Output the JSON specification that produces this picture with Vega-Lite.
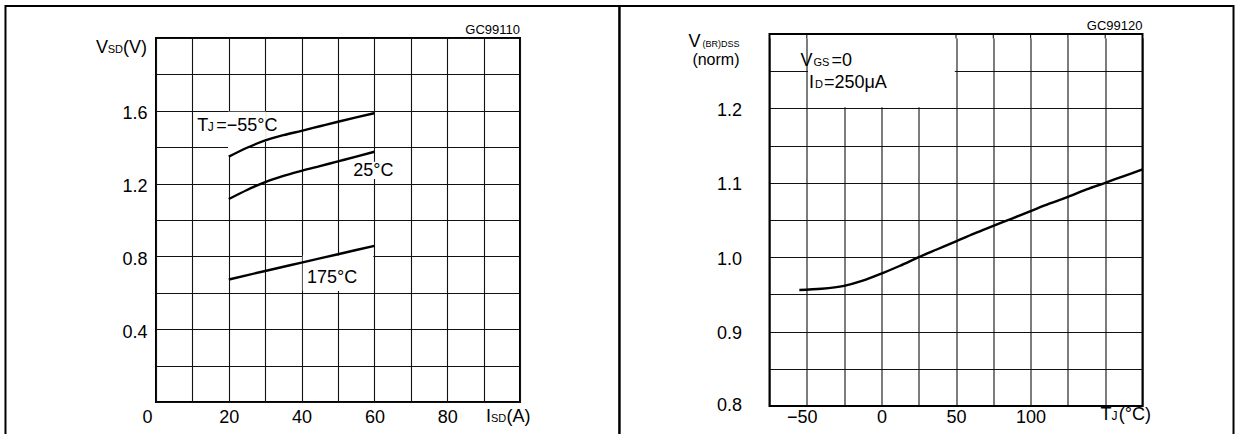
{
  "$schema": "https://vega.github.io/schema/vega-lite/v6.json",
  "background": "white",
  "padding": {"left": 3, "top": 4, "right": 0, "bottom": 0},
  "spacing": 249.5,
  "align": "none",
  "bounds": "flush",
  "datasets": {
    "vsd": [
      {"isd": 20, "vsd": 1.348, "tj": "-55"}, {"isd": 25, "vsd": 1.397, "tj": "-55"}, {"isd": 30, "vsd": 1.437, "tj": "-55"},
      {"isd": 35, "vsd": 1.466, "tj": "-55"}, {"isd": 40, "vsd": 1.490, "tj": "-55"}, {"isd": 45, "vsd": 1.515, "tj": "-55"},
      {"isd": 50, "vsd": 1.540, "tj": "-55"}, {"isd": 55, "vsd": 1.564, "tj": "-55"}, {"isd": 60, "vsd": 1.587, "tj": "-55"},
      {"isd": 20, "vsd": 1.115, "tj": "25"}, {"isd": 25, "vsd": 1.165, "tj": "25"}, {"isd": 30, "vsd": 1.208, "tj": "25"},
      {"isd": 35, "vsd": 1.242, "tj": "25"}, {"isd": 40, "vsd": 1.270, "tj": "25"}, {"isd": 45, "vsd": 1.296, "tj": "25"},
      {"isd": 50, "vsd": 1.322, "tj": "25"}, {"isd": 55, "vsd": 1.348, "tj": "25"}, {"isd": 60, "vsd": 1.375, "tj": "25"},
      {"isd": 20, "vsd": 0.673, "tj": "175"}, {"isd": 30, "vsd": 0.720, "tj": "175"}, {"isd": 40, "vsd": 0.766, "tj": "175"},
      {"isd": 50, "vsd": 0.812, "tj": "175"}, {"isd": 60, "vsd": 0.858, "tj": "175"}
    ],
    "bvdss": [
      {"tj": -55, "v": 0.956}, {"tj": -40, "v": 0.9575}, {"tj": -25, "v": 0.9615}, {"tj": -12.5, "v": 0.9685},
      {"tj": 0, "v": 0.978}, {"tj": 12.5, "v": 0.9885}, {"tj": 25, "v": 1.0}, {"tj": 37.5, "v": 1.0107},
      {"tj": 50, "v": 1.0214}, {"tj": 62.5, "v": 1.032}, {"tj": 75, "v": 1.042}, {"tj": 87.5, "v": 1.052},
      {"tj": 100, "v": 1.062}, {"tj": 112.5, "v": 1.072}, {"tj": 125, "v": 1.081}, {"tj": 137.5, "v": 1.091},
      {"tj": 150, "v": 1.100}, {"tj": 162.5, "v": 1.109}, {"tj": 175, "v": 1.118}
    ],
    "topgrid": [{"tj": -50}, {"tj": 50}, {"tj": 75}, {"tj": 100}, {"tj": 125}, {"tj": 150}]
  },
  "config": {
    "view": {"stroke": "black", "strokeWidth": 2},
    "axis": {"grid": true, "gridColor": "#111", "gridWidth": 1.1, "gridOpacity": 1, "domain": false, "ticks": false, "tickSize": 0,
             "labelFont": "Liberation Sans", "labelFontSize": 18, "labelColor": "black", "labelOverlap": false, "labelBound": false, "labelFlush": false},
    "text": {"font": "Liberation Sans", "fontSize": 18, "color": "black", "align": "left", "baseline": "alphabetic"}
  },
  "hconcat": [
    {
      "width": 364,
      "height": 364,
      "layer": [
        {"data": {"values": [{}]}, "mark": {"type": "rect", "fill": null, "stroke": "black", "strokeWidth": 2},
         "encoding": {
           "x": {"datum": -41.35, "type": "quantitative", "title": null, "scale": {"domain": [0, 100], "nice": false, "zero": false}, "axis": {"title": null, "values": [0, 10, 20, 30, 40, 50, 60, 70, 80, 90, 100], "labelExpr": "datum.value % 20 == 0 && datum.value < 100 ? datum.label : ''", "labelPadding": 6, "labelOffset": {"condition": {"test": "datum.value == 0", "value": -9}, "value": 0}}},
           "x2": {"datum": 127.3},
           "y": {"datum": 2.1758, "type": "quantitative", "title": null, "scale": {"domain": [0, 2], "nice": false, "zero": false}, "axis": {"title": null, "values": [0, 0.2, 0.4, 0.6, 0.8, 1, 1.2, 1.4, 1.6, 1.8, 2], "format": ".1f", "labelExpr": "indexof(['0.4','0.8','1.2','1.6'], datum.label) >= 0 ? datum.label : ''", "labelPadding": 9, "labelOffset": 3}},
           "y2": {"datum": -0.21}}},
        {"data": {"values": [{}]}, "mark": {"type": "rect", "fill": "white"},
         "encoding": {
           "x": {"datum": 19.8, "type": "quantitative", "title": null, "scale": {"domain": [0, 100], "nice": false, "zero": false}, "axis": {"title": null, "values": [0, 10, 20, 30, 40, 50, 60, 70, 80, 90, 100], "labelExpr": "datum.value % 20 == 0 && datum.value < 100 ? datum.label : ''", "labelPadding": 6, "labelOffset": {"condition": {"test": "datum.value == 0", "value": -9}, "value": 0}}},
           "x2": {"datum": 25},
           "y": {"datum": 1.35, "type": "quantitative", "title": null, "scale": {"domain": [0, 2], "nice": false, "zero": false}, "axis": {"title": null, "values": [0, 0.2, 0.4, 0.6, 0.8, 1, 1.2, 1.4, 1.6, 1.8, 2], "format": ".1f", "labelExpr": "indexof(['0.4','0.8','1.2','1.6'], datum.label) >= 0 ? datum.label : ''", "labelPadding": 9, "labelOffset": 3}},
           "y2": {"datum": 1.595}}},
        {"data": {"values": [{}]}, "mark": {"type": "rect", "fill": "white"},
         "encoding": {
           "x": {"datum": 25, "type": "quantitative", "title": null, "scale": {"domain": [0, 100], "nice": false, "zero": false}, "axis": {"title": null, "values": [0, 10, 20, 30, 40, 50, 60, 70, 80, 90, 100], "labelExpr": "datum.value % 20 == 0 && datum.value < 100 ? datum.label : ''", "labelPadding": 6, "labelOffset": {"condition": {"test": "datum.value == 0", "value": -9}, "value": 0}}},
           "x2": {"datum": 30.2},
           "y": {"datum": 1.43, "type": "quantitative", "title": null, "scale": {"domain": [0, 2], "nice": false, "zero": false}, "axis": {"title": null, "values": [0, 0.2, 0.4, 0.6, 0.8, 1, 1.2, 1.4, 1.6, 1.8, 2], "format": ".1f", "labelExpr": "indexof(['0.4','0.8','1.2','1.6'], datum.label) >= 0 ? datum.label : ''", "labelPadding": 9, "labelOffset": 3}},
           "y2": {"datum": 1.595}}},
        {"data": {"values": [{}]}, "mark": {"type": "rect", "fill": "white"},
         "encoding": {
           "x": {"datum": 53, "type": "quantitative", "title": null, "scale": {"domain": [0, 100], "nice": false, "zero": false}, "axis": {"title": null, "values": [0, 10, 20, 30, 40, 50, 60, 70, 80, 90, 100], "labelExpr": "datum.value % 20 == 0 && datum.value < 100 ? datum.label : ''", "labelPadding": 6, "labelOffset": {"condition": {"test": "datum.value == 0", "value": -9}, "value": 0}}},
           "x2": {"datum": 68},
           "y": {"datum": 1.225, "type": "quantitative", "title": null, "scale": {"domain": [0, 2], "nice": false, "zero": false}, "axis": {"title": null, "values": [0, 0.2, 0.4, 0.6, 0.8, 1, 1.2, 1.4, 1.6, 1.8, 2], "format": ".1f", "labelExpr": "indexof(['0.4','0.8','1.2','1.6'], datum.label) >= 0 ? datum.label : ''", "labelPadding": 9, "labelOffset": 3}},
           "y2": {"datum": 1.32}}},
        {"data": {"values": [{}]}, "mark": {"type": "rect", "fill": "white"},
         "encoding": {
           "x": {"datum": 40.3, "type": "quantitative", "title": null, "scale": {"domain": [0, 100], "nice": false, "zero": false}, "axis": {"title": null, "values": [0, 10, 20, 30, 40, 50, 60, 70, 80, 90, 100], "labelExpr": "datum.value % 20 == 0 && datum.value < 100 ? datum.label : ''", "labelPadding": 6, "labelOffset": {"condition": {"test": "datum.value == 0", "value": -9}, "value": 0}}},
           "x2": {"datum": 59.7},
           "y": {"datum": 0.61, "type": "quantitative", "title": null, "scale": {"domain": [0, 2], "nice": false, "zero": false}, "axis": {"title": null, "values": [0, 0.2, 0.4, 0.6, 0.8, 1, 1.2, 1.4, 1.6, 1.8, 2], "format": ".1f", "labelExpr": "indexof(['0.4','0.8','1.2','1.6'], datum.label) >= 0 ? datum.label : ''", "labelPadding": 9, "labelOffset": 3}},
           "y2": {"datum": 0.805}}},
        {"data": {"name": "vsd"}, "mark": {"type": "line", "color": "black", "strokeWidth": 2.4, "interpolate": "monotone"},
         "encoding": {
           "x": {"field": "isd", "type": "quantitative", "title": null, "scale": {"domain": [0, 100], "nice": false, "zero": false}, "axis": {"title": null, "values": [0, 10, 20, 30, 40, 50, 60, 70, 80, 90, 100], "labelExpr": "datum.value % 20 == 0 && datum.value < 100 ? datum.label : ''", "labelPadding": 6, "labelOffset": {"condition": {"test": "datum.value == 0", "value": -9}, "value": 0}}},
           "y": {"field": "vsd", "type": "quantitative", "title": null, "scale": {"domain": [0, 2], "nice": false, "zero": false}, "axis": {"title": null, "values": [0, 0.2, 0.4, 0.6, 0.8, 1, 1.2, 1.4, 1.6, 1.8, 2], "format": ".1f", "labelExpr": "indexof(['0.4','0.8','1.2','1.6'], datum.label) >= 0 ? datum.label : ''", "labelPadding": 9, "labelOffset": 3}},
           "detail": {"field": "tj"}
         }},
        {"data": {"values": [{}]}, "mark": {"type": "text", "text": "T"},
         "encoding": {
           "x": {"datum": 11.3, "type": "quantitative", "title": null, "scale": {"domain": [0, 100], "nice": false, "zero": false}, "axis": {"title": null, "values": [0, 10, 20, 30, 40, 50, 60, 70, 80, 90, 100], "labelExpr": "datum.value % 20 == 0 && datum.value < 100 ? datum.label : ''", "labelPadding": 6, "labelOffset": {"condition": {"test": "datum.value == 0", "value": -9}, "value": 0}}},
           "y": {"datum": 1.49, "type": "quantitative", "title": null, "scale": {"domain": [0, 2], "nice": false, "zero": false}, "axis": {"title": null, "values": [0, 0.2, 0.4, 0.6, 0.8, 1, 1.2, 1.4, 1.6, 1.8, 2], "format": ".1f", "labelExpr": "indexof(['0.4','0.8','1.2','1.6'], datum.label) >= 0 ? datum.label : ''", "labelPadding": 9, "labelOffset": 3}}}},
        {"data": {"values": [{}]}, "mark": {"type": "text", "text": "J", "fontSize": 12, "dx": 10.5},
         "encoding": {
           "x": {"datum": 11.3, "type": "quantitative", "title": null, "scale": {"domain": [0, 100], "nice": false, "zero": false}, "axis": {"title": null, "values": [0, 10, 20, 30, 40, 50, 60, 70, 80, 90, 100], "labelExpr": "datum.value % 20 == 0 && datum.value < 100 ? datum.label : ''", "labelPadding": 6, "labelOffset": {"condition": {"test": "datum.value == 0", "value": -9}, "value": 0}}},
           "y": {"datum": 1.49, "type": "quantitative", "title": null, "scale": {"domain": [0, 2], "nice": false, "zero": false}, "axis": {"title": null, "values": [0, 0.2, 0.4, 0.6, 0.8, 1, 1.2, 1.4, 1.6, 1.8, 2], "format": ".1f", "labelExpr": "indexof(['0.4','0.8','1.2','1.6'], datum.label) >= 0 ? datum.label : ''", "labelPadding": 9, "labelOffset": 3}}}},
        {"data": {"values": [{}]}, "mark": {"type": "text", "text": "=−55°C", "dx": 19},
         "encoding": {
           "x": {"datum": 11.3, "type": "quantitative", "title": null, "scale": {"domain": [0, 100], "nice": false, "zero": false}, "axis": {"title": null, "values": [0, 10, 20, 30, 40, 50, 60, 70, 80, 90, 100], "labelExpr": "datum.value % 20 == 0 && datum.value < 100 ? datum.label : ''", "labelPadding": 6, "labelOffset": {"condition": {"test": "datum.value == 0", "value": -9}, "value": 0}}},
           "y": {"datum": 1.49, "type": "quantitative", "title": null, "scale": {"domain": [0, 2], "nice": false, "zero": false}, "axis": {"title": null, "values": [0, 0.2, 0.4, 0.6, 0.8, 1, 1.2, 1.4, 1.6, 1.8, 2], "format": ".1f", "labelExpr": "indexof(['0.4','0.8','1.2','1.6'], datum.label) >= 0 ? datum.label : ''", "labelPadding": 9, "labelOffset": 3}}}},
        {"data": {"values": [{}]}, "mark": {"type": "text", "text": "25°C"},
         "encoding": {
           "x": {"datum": 54.2, "type": "quantitative", "title": null, "scale": {"domain": [0, 100], "nice": false, "zero": false}, "axis": {"title": null, "values": [0, 10, 20, 30, 40, 50, 60, 70, 80, 90, 100], "labelExpr": "datum.value % 20 == 0 && datum.value < 100 ? datum.label : ''", "labelPadding": 6, "labelOffset": {"condition": {"test": "datum.value == 0", "value": -9}, "value": 0}}},
           "y": {"datum": 1.24, "type": "quantitative", "title": null, "scale": {"domain": [0, 2], "nice": false, "zero": false}, "axis": {"title": null, "values": [0, 0.2, 0.4, 0.6, 0.8, 1, 1.2, 1.4, 1.6, 1.8, 2], "format": ".1f", "labelExpr": "indexof(['0.4','0.8','1.2','1.6'], datum.label) >= 0 ? datum.label : ''", "labelPadding": 9, "labelOffset": 3}}}},
        {"data": {"values": [{}]}, "mark": {"type": "text", "text": "175°C"},
         "encoding": {
           "x": {"datum": 41.5, "type": "quantitative", "title": null, "scale": {"domain": [0, 100], "nice": false, "zero": false}, "axis": {"title": null, "values": [0, 10, 20, 30, 40, 50, 60, 70, 80, 90, 100], "labelExpr": "datum.value % 20 == 0 && datum.value < 100 ? datum.label : ''", "labelPadding": 6, "labelOffset": {"condition": {"test": "datum.value == 0", "value": -9}, "value": 0}}},
           "y": {"datum": 0.655, "type": "quantitative", "title": null, "scale": {"domain": [0, 2], "nice": false, "zero": false}, "axis": {"title": null, "values": [0, 0.2, 0.4, 0.6, 0.8, 1, 1.2, 1.4, 1.6, 1.8, 2], "format": ".1f", "labelExpr": "indexof(['0.4','0.8','1.2','1.6'], datum.label) >= 0 ? datum.label : ''", "labelPadding": 9, "labelOffset": 3}}}},
        {"data": {"values": [{}]}, "mark": {"type": "text", "text": "GC99110", "fontSize": 13, "align": "right", "dy": -4},
         "encoding": {
           "x": {"datum": 100, "type": "quantitative", "title": null, "scale": {"domain": [0, 100], "nice": false, "zero": false}, "axis": {"title": null, "values": [0, 10, 20, 30, 40, 50, 60, 70, 80, 90, 100], "labelExpr": "datum.value % 20 == 0 && datum.value < 100 ? datum.label : ''", "labelPadding": 6, "labelOffset": {"condition": {"test": "datum.value == 0", "value": -9}, "value": 0}}},
           "y": {"datum": 2, "type": "quantitative", "title": null, "scale": {"domain": [0, 2], "nice": false, "zero": false}, "axis": {"title": null, "values": [0, 0.2, 0.4, 0.6, 0.8, 1, 1.2, 1.4, 1.6, 1.8, 2], "format": ".1f", "labelExpr": "indexof(['0.4','0.8','1.2','1.6'], datum.label) >= 0 ? datum.label : ''", "labelPadding": 9, "labelOffset": 3}}}},
        {"data": {"values": [{}]}, "mark": {"type": "text", "text": "V", "align": "right", "dx": -48, "dy": 15},
         "encoding": {
           "x": {"datum": 0, "type": "quantitative", "title": null, "scale": {"domain": [0, 100], "nice": false, "zero": false}, "axis": {"title": null, "values": [0, 10, 20, 30, 40, 50, 60, 70, 80, 90, 100], "labelExpr": "datum.value % 20 == 0 && datum.value < 100 ? datum.label : ''", "labelPadding": 6, "labelOffset": {"condition": {"test": "datum.value == 0", "value": -9}, "value": 0}}},
           "y": {"datum": 2, "type": "quantitative", "title": null, "scale": {"domain": [0, 2], "nice": false, "zero": false}, "axis": {"title": null, "values": [0, 0.2, 0.4, 0.6, 0.8, 1, 1.2, 1.4, 1.6, 1.8, 2], "format": ".1f", "labelExpr": "indexof(['0.4','0.8','1.2','1.6'], datum.label) >= 0 ? datum.label : ''", "labelPadding": 9, "labelOffset": 3}}}},
        {"data": {"values": [{}]}, "mark": {"type": "text", "text": "SD", "fontSize": 11, "align": "right", "dx": -33, "dy": 15},
         "encoding": {
           "x": {"datum": 0, "type": "quantitative", "title": null, "scale": {"domain": [0, 100], "nice": false, "zero": false}, "axis": {"title": null, "values": [0, 10, 20, 30, 40, 50, 60, 70, 80, 90, 100], "labelExpr": "datum.value % 20 == 0 && datum.value < 100 ? datum.label : ''", "labelPadding": 6, "labelOffset": {"condition": {"test": "datum.value == 0", "value": -9}, "value": 0}}},
           "y": {"datum": 2, "type": "quantitative", "title": null, "scale": {"domain": [0, 2], "nice": false, "zero": false}, "axis": {"title": null, "values": [0, 0.2, 0.4, 0.6, 0.8, 1, 1.2, 1.4, 1.6, 1.8, 2], "format": ".1f", "labelExpr": "indexof(['0.4','0.8','1.2','1.6'], datum.label) >= 0 ? datum.label : ''", "labelPadding": 9, "labelOffset": 3}}}},
        {"data": {"values": [{}]}, "mark": {"type": "text", "text": "(V)", "align": "right", "dx": -9, "dy": 15},
         "encoding": {
           "x": {"datum": 0, "type": "quantitative", "title": null, "scale": {"domain": [0, 100], "nice": false, "zero": false}, "axis": {"title": null, "values": [0, 10, 20, 30, 40, 50, 60, 70, 80, 90, 100], "labelExpr": "datum.value % 20 == 0 && datum.value < 100 ? datum.label : ''", "labelPadding": 6, "labelOffset": {"condition": {"test": "datum.value == 0", "value": -9}, "value": 0}}},
           "y": {"datum": 2, "type": "quantitative", "title": null, "scale": {"domain": [0, 2], "nice": false, "zero": false}, "axis": {"title": null, "values": [0, 0.2, 0.4, 0.6, 0.8, 1, 1.2, 1.4, 1.6, 1.8, 2], "format": ".1f", "labelExpr": "indexof(['0.4','0.8','1.2','1.6'], datum.label) >= 0 ? datum.label : ''", "labelPadding": 9, "labelOffset": 3}}}},
        {"data": {"values": [{}]}, "mark": {"type": "text", "text": "I", "dx": -34, "dy": 20},
         "encoding": {
           "x": {"datum": 100, "type": "quantitative", "title": null, "scale": {"domain": [0, 100], "nice": false, "zero": false}, "axis": {"title": null, "values": [0, 10, 20, 30, 40, 50, 60, 70, 80, 90, 100], "labelExpr": "datum.value % 20 == 0 && datum.value < 100 ? datum.label : ''", "labelPadding": 6, "labelOffset": {"condition": {"test": "datum.value == 0", "value": -9}, "value": 0}}},
           "y": {"datum": 0, "type": "quantitative", "title": null, "scale": {"domain": [0, 2], "nice": false, "zero": false}, "axis": {"title": null, "values": [0, 0.2, 0.4, 0.6, 0.8, 1, 1.2, 1.4, 1.6, 1.8, 2], "format": ".1f", "labelExpr": "indexof(['0.4','0.8','1.2','1.6'], datum.label) >= 0 ? datum.label : ''", "labelPadding": 9, "labelOffset": 3}}}},
        {"data": {"values": [{}]}, "mark": {"type": "text", "text": "SD", "fontSize": 11, "dx": -29, "dy": 20},
         "encoding": {
           "x": {"datum": 100, "type": "quantitative", "title": null, "scale": {"domain": [0, 100], "nice": false, "zero": false}, "axis": {"title": null, "values": [0, 10, 20, 30, 40, 50, 60, 70, 80, 90, 100], "labelExpr": "datum.value % 20 == 0 && datum.value < 100 ? datum.label : ''", "labelPadding": 6, "labelOffset": {"condition": {"test": "datum.value == 0", "value": -9}, "value": 0}}},
           "y": {"datum": 0, "type": "quantitative", "title": null, "scale": {"domain": [0, 2], "nice": false, "zero": false}, "axis": {"title": null, "values": [0, 0.2, 0.4, 0.6, 0.8, 1, 1.2, 1.4, 1.6, 1.8, 2], "format": ".1f", "labelExpr": "indexof(['0.4','0.8','1.2','1.6'], datum.label) >= 0 ? datum.label : ''", "labelPadding": 9, "labelOffset": 3}}}},
        {"data": {"values": [{}]}, "mark": {"type": "text", "text": "(A)", "dx": -13.5, "dy": 20},
         "encoding": {
           "x": {"datum": 100, "type": "quantitative", "title": null, "scale": {"domain": [0, 100], "nice": false, "zero": false}, "axis": {"title": null, "values": [0, 10, 20, 30, 40, 50, 60, 70, 80, 90, 100], "labelExpr": "datum.value % 20 == 0 && datum.value < 100 ? datum.label : ''", "labelPadding": 6, "labelOffset": {"condition": {"test": "datum.value == 0", "value": -9}, "value": 0}}},
           "y": {"datum": 0, "type": "quantitative", "title": null, "scale": {"domain": [0, 2], "nice": false, "zero": false}, "axis": {"title": null, "values": [0, 0.2, 0.4, 0.6, 0.8, 1, 1.2, 1.4, 1.6, 1.8, 2], "format": ".1f", "labelExpr": "indexof(['0.4','0.8','1.2','1.6'], datum.label) >= 0 ? datum.label : ''", "labelPadding": 9, "labelOffset": 3}}}}
      ]
    },
    {
      "width": 373,
      "height": 368,
      "view": {"stroke": null},
      "layer": [
        {"data": {"values": [{}]}, "mark": {"type": "rect", "fill": null, "stroke": "black", "strokeWidth": 2},
         "encoding": {
           "x": {"datum": -175.536, "type": "quantitative", "title": null, "scale": {"domain": [-75, 175], "nice": false, "zero": false}, "axis": {"title": null, "values": [-75, -50, -25, 0, 25, 50, 75, 100, 125, 150, 175], "labelExpr": "datum.value % 50 == 0 && datum.value < 150 ? datum.label : ''", "labelPadding": 2, "labelOffset": {"condition": {"test": "datum.value < 0", "value": -5}, "value": 0}}},
           "x2": {"datum": 236},
           "y": {"datum": 1.33763, "type": "quantitative", "title": null, "scale": {"domain": [0.8, 1.29462], "nice": false, "zero": false}, "axis": {"title": null, "values": [0.8, 0.85, 0.9, 0.95, 1, 1.05, 1.1, 1.15, 1.2, 1.25], "labelExpr": "(datum.value < 1.25 && abs(datum.value * 10 - round(datum.value * 10)) < 0.01) ? format(datum.value, '.1f') : ''", "labelPadding": 28, "labelOffset": {"condition": {"test": "datum.value < 0.81", "value": -1}, "value": 2}}},
           "y2": {"datum": 0.746}}},
        {"data": {"name": "topgrid"}, "mark": {"type": "rule", "color": "#111", "strokeWidth": 1.1},
         "encoding": {
           "x": {"field": "tj", "type": "quantitative", "title": null, "scale": {"domain": [-75, 175], "nice": false, "zero": false}, "axis": {"title": null, "values": [-75, -50, -25, 0, 25, 50, 75, 100, 125, 150, 175], "labelExpr": "datum.value % 50 == 0 && datum.value < 150 ? datum.label : ''", "labelPadding": 2, "labelOffset": {"condition": {"test": "datum.value < 0", "value": -5}, "value": 0}}},
           "y": {"datum": 1.294, "type": "quantitative", "title": null, "scale": {"domain": [0.8, 1.29462], "nice": false, "zero": false}, "axis": {"title": null, "values": [0.8, 0.85, 0.9, 0.95, 1, 1.05, 1.1, 1.15, 1.2, 1.25], "labelExpr": "(datum.value < 1.25 && abs(datum.value * 10 - round(datum.value * 10)) < 0.01) ? format(datum.value, '.1f') : ''", "labelPadding": 28, "labelOffset": {"condition": {"test": "datum.value < 0.81", "value": -1}, "value": 2}}},
           "y2": {"datum": 1.3}}},
        {"data": {"values": [{}]}, "mark": {"type": "rect", "fill": "white"},
         "encoding": {
           "x": {"datum": -49.2, "type": "quantitative", "title": null, "scale": {"domain": [-75, 175], "nice": false, "zero": false}, "axis": {"title": null, "values": [-75, -50, -25, 0, 25, 50, 75, 100, 125, 150, 175], "labelExpr": "datum.value % 50 == 0 && datum.value < 150 ? datum.label : ''", "labelPadding": 2, "labelOffset": {"condition": {"test": "datum.value < 0", "value": -5}, "value": 0}}},
           "x2": {"datum": 49.2},
           "y": {"datum": 1.2015, "type": "quantitative", "title": null, "scale": {"domain": [0.8, 1.29462], "nice": false, "zero": false}, "axis": {"title": null, "values": [0.8, 0.85, 0.9, 0.95, 1, 1.05, 1.1, 1.15, 1.2, 1.25], "labelExpr": "(datum.value < 1.25 && abs(datum.value * 10 - round(datum.value * 10)) < 0.01) ? format(datum.value, '.1f') : ''", "labelPadding": 28, "labelOffset": {"condition": {"test": "datum.value < 0.81", "value": -1}, "value": 2}}},
           "y2": {"datum": 1.2985}}},
        {"data": {"values": [{}]}, "mark": {"type": "rect", "fill": null, "stroke": "black", "strokeWidth": 2},
         "encoding": {
           "x": {"datum": -75, "type": "quantitative", "title": null, "scale": {"domain": [-75, 175], "nice": false, "zero": false}, "axis": {"title": null, "values": [-75, -50, -25, 0, 25, 50, 75, 100, 125, 150, 175], "labelExpr": "datum.value % 50 == 0 && datum.value < 150 ? datum.label : ''", "labelPadding": 2, "labelOffset": {"condition": {"test": "datum.value < 0", "value": -5}, "value": 0}}},
           "x2": {"datum": 175},
           "y": {"datum": 1.3, "type": "quantitative", "title": null, "scale": {"domain": [0.8, 1.29462], "nice": false, "zero": false}, "axis": {"title": null, "values": [0.8, 0.85, 0.9, 0.95, 1, 1.05, 1.1, 1.15, 1.2, 1.25], "labelExpr": "(datum.value < 1.25 && abs(datum.value * 10 - round(datum.value * 10)) < 0.01) ? format(datum.value, '.1f') : ''", "labelPadding": 28, "labelOffset": {"condition": {"test": "datum.value < 0.81", "value": -1}, "value": 2}}},
           "y2": {"datum": 0.8}}},
        {"data": {"name": "bvdss"}, "mark": {"type": "line", "color": "black", "strokeWidth": 2.4, "interpolate": "monotone"},
         "encoding": {
           "x": {"field": "tj", "type": "quantitative", "title": null, "scale": {"domain": [-75, 175], "nice": false, "zero": false}, "axis": {"title": null, "values": [-75, -50, -25, 0, 25, 50, 75, 100, 125, 150, 175], "labelExpr": "datum.value % 50 == 0 && datum.value < 150 ? datum.label : ''", "labelPadding": 2, "labelOffset": {"condition": {"test": "datum.value < 0", "value": -5}, "value": 0}}},
           "y": {"field": "v", "type": "quantitative", "title": null, "scale": {"domain": [0.8, 1.29462], "nice": false, "zero": false}, "axis": {"title": null, "values": [0.8, 0.85, 0.9, 0.95, 1, 1.05, 1.1, 1.15, 1.2, 1.25], "labelExpr": "(datum.value < 1.25 && abs(datum.value * 10 - round(datum.value * 10)) < 0.01) ? format(datum.value, '.1f') : ''", "labelPadding": 28, "labelOffset": {"condition": {"test": "datum.value < 0.81", "value": -1}, "value": 2}}}
         }},
        {"data": {"values": [{}]}, "mark": {"type": "text", "text": "GC99120", "fontSize": 13, "align": "right", "dy": -4},
         "encoding": {
           "x": {"datum": 175, "type": "quantitative", "title": null, "scale": {"domain": [-75, 175], "nice": false, "zero": false}, "axis": {"title": null, "values": [-75, -50, -25, 0, 25, 50, 75, 100, 125, 150, 175], "labelExpr": "datum.value % 50 == 0 && datum.value < 150 ? datum.label : ''", "labelPadding": 2, "labelOffset": {"condition": {"test": "datum.value < 0", "value": -5}, "value": 0}}},
           "y": {"datum": 1.3, "type": "quantitative", "title": null, "scale": {"domain": [0.8, 1.29462], "nice": false, "zero": false}, "axis": {"title": null, "values": [0.8, 0.85, 0.9, 0.95, 1, 1.05, 1.1, 1.15, 1.2, 1.25], "labelExpr": "(datum.value < 1.25 && abs(datum.value * 10 - round(datum.value * 10)) < 0.01) ? format(datum.value, '.1f') : ''", "labelPadding": 28, "labelOffset": {"condition": {"test": "datum.value < 0.81", "value": -1}, "value": 2}}}}},
        {"data": {"values": [{}]}, "mark": {"type": "text", "text": "V", "align": "right", "dx": -69, "dy": 12.7},
         "encoding": {
           "x": {"datum": -75, "type": "quantitative", "title": null, "scale": {"domain": [-75, 175], "nice": false, "zero": false}, "axis": {"title": null, "values": [-75, -50, -25, 0, 25, 50, 75, 100, 125, 150, 175], "labelExpr": "datum.value % 50 == 0 && datum.value < 150 ? datum.label : ''", "labelPadding": 2, "labelOffset": {"condition": {"test": "datum.value < 0", "value": -5}, "value": 0}}},
           "y": {"datum": 1.3, "type": "quantitative", "title": null, "scale": {"domain": [0.8, 1.29462], "nice": false, "zero": false}, "axis": {"title": null, "values": [0.8, 0.85, 0.9, 0.95, 1, 1.05, 1.1, 1.15, 1.2, 1.25], "labelExpr": "(datum.value < 1.25 && abs(datum.value * 10 - round(datum.value * 10)) < 0.01) ? format(datum.value, '.1f') : ''", "labelPadding": 28, "labelOffset": {"condition": {"test": "datum.value < 0.81", "value": -1}, "value": 2}}}}},
        {"data": {"values": [{}]}, "mark": {"type": "text", "text": "(BR)DSS", "fontSize": 9, "align": "right", "dx": -30, "dy": 12.7},
         "encoding": {
           "x": {"datum": -75, "type": "quantitative", "title": null, "scale": {"domain": [-75, 175], "nice": false, "zero": false}, "axis": {"title": null, "values": [-75, -50, -25, 0, 25, 50, 75, 100, 125, 150, 175], "labelExpr": "datum.value % 50 == 0 && datum.value < 150 ? datum.label : ''", "labelPadding": 2, "labelOffset": {"condition": {"test": "datum.value < 0", "value": -5}, "value": 0}}},
           "y": {"datum": 1.3, "type": "quantitative", "title": null, "scale": {"domain": [0.8, 1.29462], "nice": false, "zero": false}, "axis": {"title": null, "values": [0.8, 0.85, 0.9, 0.95, 1, 1.05, 1.1, 1.15, 1.2, 1.25], "labelExpr": "(datum.value < 1.25 && abs(datum.value * 10 - round(datum.value * 10)) < 0.01) ? format(datum.value, '.1f') : ''", "labelPadding": 28, "labelOffset": {"condition": {"test": "datum.value < 0.81", "value": -1}, "value": 2}}}}},
        {"data": {"values": [{}]}, "mark": {"type": "text", "text": "(norm)", "fontSize": 16, "align": "right", "dx": -30, "dy": 31},
         "encoding": {
           "x": {"datum": -75, "type": "quantitative", "title": null, "scale": {"domain": [-75, 175], "nice": false, "zero": false}, "axis": {"title": null, "values": [-75, -50, -25, 0, 25, 50, 75, 100, 125, 150, 175], "labelExpr": "datum.value % 50 == 0 && datum.value < 150 ? datum.label : ''", "labelPadding": 2, "labelOffset": {"condition": {"test": "datum.value < 0", "value": -5}, "value": 0}}},
           "y": {"datum": 1.3, "type": "quantitative", "title": null, "scale": {"domain": [0.8, 1.29462], "nice": false, "zero": false}, "axis": {"title": null, "values": [0.8, 0.85, 0.9, 0.95, 1, 1.05, 1.1, 1.15, 1.2, 1.25], "labelExpr": "(datum.value < 1.25 && abs(datum.value * 10 - round(datum.value * 10)) < 0.01) ? format(datum.value, '.1f') : ''", "labelPadding": 28, "labelOffset": {"condition": {"test": "datum.value < 0.81", "value": -1}, "value": 2}}}}},
        {"data": {"values": [{}]}, "mark": {"type": "text", "text": "V"},
         "encoding": {
           "x": {"datum": -54.3, "type": "quantitative", "title": null, "scale": {"domain": [-75, 175], "nice": false, "zero": false}, "axis": {"title": null, "values": [-75, -50, -25, 0, 25, 50, 75, 100, 125, 150, 175], "labelExpr": "datum.value % 50 == 0 && datum.value < 150 ? datum.label : ''", "labelPadding": 2, "labelOffset": {"condition": {"test": "datum.value < 0", "value": -5}, "value": 0}}},
           "y": {"datum": 1.257, "type": "quantitative", "title": null, "scale": {"domain": [0.8, 1.29462], "nice": false, "zero": false}, "axis": {"title": null, "values": [0.8, 0.85, 0.9, 0.95, 1, 1.05, 1.1, 1.15, 1.2, 1.25], "labelExpr": "(datum.value < 1.25 && abs(datum.value * 10 - round(datum.value * 10)) < 0.01) ? format(datum.value, '.1f') : ''", "labelPadding": 28, "labelOffset": {"condition": {"test": "datum.value < 0.81", "value": -1}, "value": 2}}}}},
        {"data": {"values": [{}]}, "mark": {"type": "text", "text": "GS", "fontSize": 11, "dx": 13},
         "encoding": {
           "x": {"datum": -54.3, "type": "quantitative", "title": null, "scale": {"domain": [-75, 175], "nice": false, "zero": false}, "axis": {"title": null, "values": [-75, -50, -25, 0, 25, 50, 75, 100, 125, 150, 175], "labelExpr": "datum.value % 50 == 0 && datum.value < 150 ? datum.label : ''", "labelPadding": 2, "labelOffset": {"condition": {"test": "datum.value < 0", "value": -5}, "value": 0}}},
           "y": {"datum": 1.257, "type": "quantitative", "title": null, "scale": {"domain": [0.8, 1.29462], "nice": false, "zero": false}, "axis": {"title": null, "values": [0.8, 0.85, 0.9, 0.95, 1, 1.05, 1.1, 1.15, 1.2, 1.25], "labelExpr": "(datum.value < 1.25 && abs(datum.value * 10 - round(datum.value * 10)) < 0.01) ? format(datum.value, '.1f') : ''", "labelPadding": 28, "labelOffset": {"condition": {"test": "datum.value < 0.81", "value": -1}, "value": 2}}}}},
        {"data": {"values": [{}]}, "mark": {"type": "text", "text": "=0", "dx": 31},
         "encoding": {
           "x": {"datum": -54.3, "type": "quantitative", "title": null, "scale": {"domain": [-75, 175], "nice": false, "zero": false}, "axis": {"title": null, "values": [-75, -50, -25, 0, 25, 50, 75, 100, 125, 150, 175], "labelExpr": "datum.value % 50 == 0 && datum.value < 150 ? datum.label : ''", "labelPadding": 2, "labelOffset": {"condition": {"test": "datum.value < 0", "value": -5}, "value": 0}}},
           "y": {"datum": 1.257, "type": "quantitative", "title": null, "scale": {"domain": [0.8, 1.29462], "nice": false, "zero": false}, "axis": {"title": null, "values": [0.8, 0.85, 0.9, 0.95, 1, 1.05, 1.1, 1.15, 1.2, 1.25], "labelExpr": "(datum.value < 1.25 && abs(datum.value * 10 - round(datum.value * 10)) < 0.01) ? format(datum.value, '.1f') : ''", "labelPadding": 28, "labelOffset": {"condition": {"test": "datum.value < 0.81", "value": -1}, "value": 2}}}}},
        {"data": {"values": [{}]}, "mark": {"type": "text", "text": "I"},
         "encoding": {
           "x": {"datum": -48.6, "type": "quantitative", "title": null, "scale": {"domain": [-75, 175], "nice": false, "zero": false}, "axis": {"title": null, "values": [-75, -50, -25, 0, 25, 50, 75, 100, 125, 150, 175], "labelExpr": "datum.value % 50 == 0 && datum.value < 150 ? datum.label : ''", "labelPadding": 2, "labelOffset": {"condition": {"test": "datum.value < 0", "value": -5}, "value": 0}}},
           "y": {"datum": 1.227, "type": "quantitative", "title": null, "scale": {"domain": [0.8, 1.29462], "nice": false, "zero": false}, "axis": {"title": null, "values": [0.8, 0.85, 0.9, 0.95, 1, 1.05, 1.1, 1.15, 1.2, 1.25], "labelExpr": "(datum.value < 1.25 && abs(datum.value * 10 - round(datum.value * 10)) < 0.01) ? format(datum.value, '.1f') : ''", "labelPadding": 28, "labelOffset": {"condition": {"test": "datum.value < 0.81", "value": -1}, "value": 2}}}}},
        {"data": {"values": [{}]}, "mark": {"type": "text", "text": "D", "fontSize": 11, "dx": 6},
         "encoding": {
           "x": {"datum": -48.6, "type": "quantitative", "title": null, "scale": {"domain": [-75, 175], "nice": false, "zero": false}, "axis": {"title": null, "values": [-75, -50, -25, 0, 25, 50, 75, 100, 125, 150, 175], "labelExpr": "datum.value % 50 == 0 && datum.value < 150 ? datum.label : ''", "labelPadding": 2, "labelOffset": {"condition": {"test": "datum.value < 0", "value": -5}, "value": 0}}},
           "y": {"datum": 1.227, "type": "quantitative", "title": null, "scale": {"domain": [0.8, 1.29462], "nice": false, "zero": false}, "axis": {"title": null, "values": [0.8, 0.85, 0.9, 0.95, 1, 1.05, 1.1, 1.15, 1.2, 1.25], "labelExpr": "(datum.value < 1.25 && abs(datum.value * 10 - round(datum.value * 10)) < 0.01) ? format(datum.value, '.1f') : ''", "labelPadding": 28, "labelOffset": {"condition": {"test": "datum.value < 0.81", "value": -1}, "value": 2}}}}},
        {"data": {"values": [{}]}, "mark": {"type": "text", "text": "=250μA", "dx": 15},
         "encoding": {
           "x": {"datum": -48.6, "type": "quantitative", "title": null, "scale": {"domain": [-75, 175], "nice": false, "zero": false}, "axis": {"title": null, "values": [-75, -50, -25, 0, 25, 50, 75, 100, 125, 150, 175], "labelExpr": "datum.value % 50 == 0 && datum.value < 150 ? datum.label : ''", "labelPadding": 2, "labelOffset": {"condition": {"test": "datum.value < 0", "value": -5}, "value": 0}}},
           "y": {"datum": 1.227, "type": "quantitative", "title": null, "scale": {"domain": [0.8, 1.29462], "nice": false, "zero": false}, "axis": {"title": null, "values": [0.8, 0.85, 0.9, 0.95, 1, 1.05, 1.1, 1.15, 1.2, 1.25], "labelExpr": "(datum.value < 1.25 && abs(datum.value * 10 - round(datum.value * 10)) < 0.01) ? format(datum.value, '.1f') : ''", "labelPadding": 28, "labelOffset": {"condition": {"test": "datum.value < 0.81", "value": -1}, "value": 2}}}}},
        {"data": {"values": [{}]}, "mark": {"type": "text", "text": "T", "dx": -4.7, "dy": 14},
         "encoding": {
           "x": {"datum": 150, "type": "quantitative", "title": null, "scale": {"domain": [-75, 175], "nice": false, "zero": false}, "axis": {"title": null, "values": [-75, -50, -25, 0, 25, 50, 75, 100, 125, 150, 175], "labelExpr": "datum.value % 50 == 0 && datum.value < 150 ? datum.label : ''", "labelPadding": 2, "labelOffset": {"condition": {"test": "datum.value < 0", "value": -5}, "value": 0}}},
           "y": {"datum": 0.8, "type": "quantitative", "title": null, "scale": {"domain": [0.8, 1.29462], "nice": false, "zero": false}, "axis": {"title": null, "values": [0.8, 0.85, 0.9, 0.95, 1, 1.05, 1.1, 1.15, 1.2, 1.25], "labelExpr": "(datum.value < 1.25 && abs(datum.value * 10 - round(datum.value * 10)) < 0.01) ? format(datum.value, '.1f') : ''", "labelPadding": 28, "labelOffset": {"condition": {"test": "datum.value < 0.81", "value": -1}, "value": 2}}}}},
        {"data": {"values": [{}]}, "mark": {"type": "text", "text": "J", "fontSize": 12, "dx": 6.3, "dy": 14},
         "encoding": {
           "x": {"datum": 150, "type": "quantitative", "title": null, "scale": {"domain": [-75, 175], "nice": false, "zero": false}, "axis": {"title": null, "values": [-75, -50, -25, 0, 25, 50, 75, 100, 125, 150, 175], "labelExpr": "datum.value % 50 == 0 && datum.value < 150 ? datum.label : ''", "labelPadding": 2, "labelOffset": {"condition": {"test": "datum.value < 0", "value": -5}, "value": 0}}},
           "y": {"datum": 0.8, "type": "quantitative", "title": null, "scale": {"domain": [0.8, 1.29462], "nice": false, "zero": false}, "axis": {"title": null, "values": [0.8, 0.85, 0.9, 0.95, 1, 1.05, 1.1, 1.15, 1.2, 1.25], "labelExpr": "(datum.value < 1.25 && abs(datum.value * 10 - round(datum.value * 10)) < 0.01) ? format(datum.value, '.1f') : ''", "labelPadding": 28, "labelOffset": {"condition": {"test": "datum.value < 0.81", "value": -1}, "value": 2}}}}},
        {"data": {"values": [{}]}, "mark": {"type": "text", "text": "(°C)", "dx": 13.6, "dy": 14},
         "encoding": {
           "x": {"datum": 150, "type": "quantitative", "title": null, "scale": {"domain": [-75, 175], "nice": false, "zero": false}, "axis": {"title": null, "values": [-75, -50, -25, 0, 25, 50, 75, 100, 125, 150, 175], "labelExpr": "datum.value % 50 == 0 && datum.value < 150 ? datum.label : ''", "labelPadding": 2, "labelOffset": {"condition": {"test": "datum.value < 0", "value": -5}, "value": 0}}},
           "y": {"datum": 0.8, "type": "quantitative", "title": null, "scale": {"domain": [0.8, 1.29462], "nice": false, "zero": false}, "axis": {"title": null, "values": [0.8, 0.85, 0.9, 0.95, 1, 1.05, 1.1, 1.15, 1.2, 1.25], "labelExpr": "(datum.value < 1.25 && abs(datum.value * 10 - round(datum.value * 10)) < 0.01) ? format(datum.value, '.1f') : ''", "labelPadding": 28, "labelOffset": {"condition": {"test": "datum.value < 0.81", "value": -1}, "value": 2}}}}}
      ]
    }
  ]
}
